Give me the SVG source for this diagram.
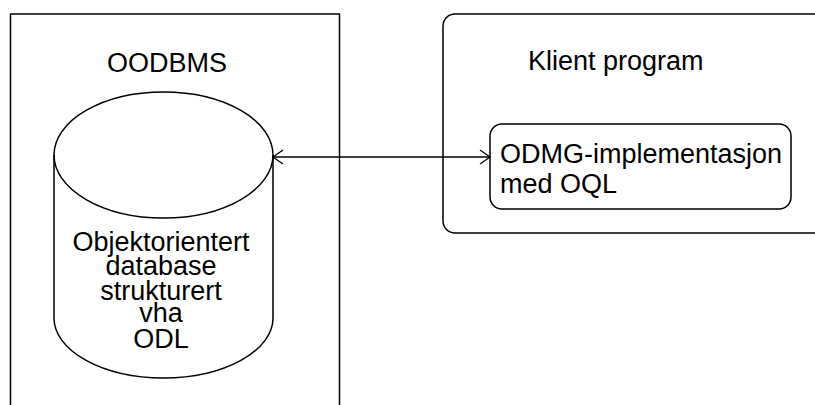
<svg xmlns="http://www.w3.org/2000/svg" width="815" height="405" viewBox="0 0 815 405">
<defs>
<style>
.box{fill:none;stroke:#000;stroke-width:1.5}
.txt{font-family:"Liberation Sans",Arial,sans-serif;font-size:27px;fill:#000}
.mid{text-anchor:middle}
.con{fill:none;stroke:#000;stroke-width:1.3}
</style>
<marker id="arr" markerWidth="14" markerHeight="18" refX="11" refY="8" orient="auto-start-reverse" markerUnits="userSpaceOnUse">
<path d="M1,1 L11,8 L1,15" fill="none" stroke="#000" stroke-width="1.3"/>
</marker>
</defs>
<rect width="815" height="405" fill="#fff"/>
<g id="oodbms">
<rect class="box" x="10.5" y="14" width="329" height="400"/>
<text class="txt mid" x="167" y="72">OODBMS</text>
</g>
<g id="database">
<path class="box" d="M54,155 L54,318 A109.5,60 0 0 0 273,318 L273,155"/>
<ellipse class="box" cx="163.5" cy="155" rx="109.5" ry="63"/>
<text class="txt mid" x="161" y="251">Objektorientert</text>
<text class="txt mid" x="161" y="275">database</text>
<text class="txt mid" x="161" y="300">strukturert</text>
<text class="txt mid" x="161" y="322">vha</text>
<text class="txt mid" x="161" y="348">ODL</text>
</g>
<g id="klient">
<rect class="box" x="443" y="14" width="400" height="219" rx="12" ry="12"/>
<text class="txt" x="528" y="70">Klient program</text>
</g>
<g id="odmg">
<rect class="box" x="490" y="124" width="301" height="85" rx="12" ry="12"/>
<text class="txt" x="500" y="163">ODMG-implementasjon</text>
<text class="txt" x="500" y="193">med OQL</text>
</g>
<g id="connectors">
<line class="con" x1="273" y1="157" x2="490" y2="157" marker-start="url(#arr)" marker-end="url(#arr)"/>
</g>
</svg>
